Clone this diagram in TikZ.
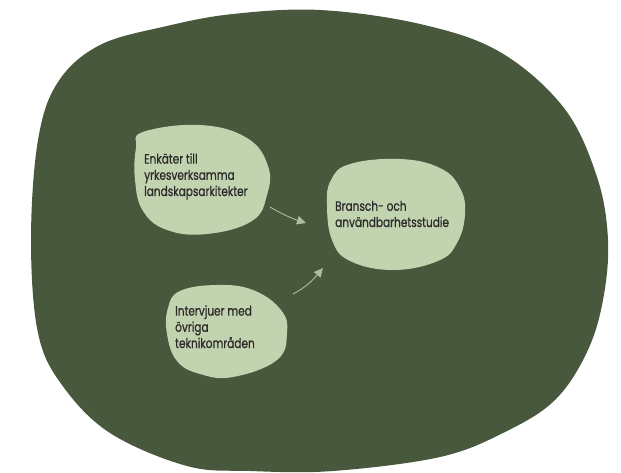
\documentclass[tikz,border=0pt]{standalone}
\usepackage{fontspec}
\setmainfont{Poppins}[FakeStretch=0.78, FakeBold=0.6]
\usetikzlibrary{arrows.meta}

\definecolor{forest}{HTML}{48583C}
\definecolor{sage}{HTML}{C1D3AF}
\definecolor{sagearrow}{HTML}{A9BF9D}
\definecolor{ink}{HTML}{2A2A2A}

\tikzset{
  blob/.style={fill=sage, draw=none},
  label text/.style={anchor=base west, inner sep=0pt, align=left,
    text=ink, font=\fontsize{13.5}{16.2}\selectfont},
  flow/.style={draw=sagearrow, line width=0.9pt,
    -{Triangle[length=9pt,width=8.5pt]}},
}

\begin{document}
\begin{tikzpicture}[x=1pt,y=-1pt]
  \useasboundingbox (0,0) rectangle (621,473);
  \fill[white] (0,0) rectangle (621,473);

  % outer area
  \fill[forest] plot[smooth cycle, tension=0.6] coordinates {
    (320,10) (420,24) (500,52) (564,108) (597,177) (608,240)
    (603,300) (587,352) (555,400) (505,432) (440,457) (333,471)
    (250,471) (187,466) (110,433) (62,385) (38,333) (31,240)
    (38,140) (58,82) (100,45) (167,26) (233,14)};

  % three study blobs
  \fill[blob] plot[smooth cycle, tension=0.7] coordinates {
    (143,132) (200,125) (247,138) (268,166) (267,195) (252,221)
    (207,234) (167,230) (143,211) (135,180) (136,148)};
  \fill[blob] plot[smooth cycle, tension=0.7] coordinates {
    (350,164) (400,159) (440,168) (460,188) (465,214) (457,243)
    (438,261) (393,270) (350,261) (332,240) (327,205) (331,180)};
  \fill[blob] plot[smooth cycle, tension=0.7] coordinates {
    (180,291) (217,285) (253,290) (281,310) (287,333) (277,360)
    (233,377) (200,374) (177,361) (167,334) (168,308)};

  % labels (anchored on the baseline of their last line)
  \node[label text] (enk) at (144,196)
    {Enkäter till\\yrkesverksamma\\landskapsarkitekter};
  \node[label text] (bra) at (335,227)
    {Bransch- och\\användbarhetsstudie};
  \node[label text] (int) at (175,348)
    {Intervjuer med\\övriga\\teknikområden};

  % connector ends
  \coordinate (enkout) at (270,207);
  \coordinate (brain1) at (306,223);
  \coordinate (intout) at (293,294);
  \coordinate (brain2) at (323,268);

  \draw[flow] (enkout) to[out=-30, in=162] (brain1);
  \draw[flow] (intout) to[out=28, in=-130] (brain2);
\end{tikzpicture}
\end{document}
